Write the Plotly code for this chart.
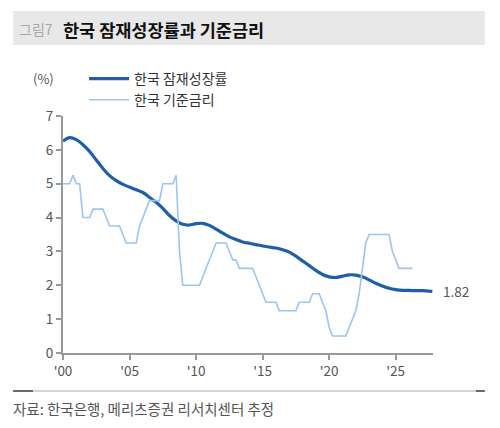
import plotly.graph_objects as go

# Potential growth rate (semiannual readings)
pg_x = [2000.0, 2000.5, 2001.0, 2001.5, 2002.0, 2002.5, 2003.0, 2003.5, 2004.0, 2004.5,
        2005.0, 2005.5, 2006.0, 2006.5, 2007.0, 2007.5, 2008.0, 2008.5, 2009.0, 2009.5,
        2010.0, 2010.5, 2011.0, 2011.5, 2012.0, 2012.5, 2013.0, 2013.5, 2014.0, 2014.5,
        2015.0, 2015.5, 2016.0, 2016.5, 2017.0, 2017.5, 2018.0, 2018.5, 2019.0, 2019.5,
        2020.0, 2020.5, 2021.0, 2021.5, 2022.0, 2022.5, 2023.0, 2023.5, 2024.0, 2024.5,
        2025.0, 2025.5, 2026.0, 2026.5, 2027.0, 2027.5, 2027.75]
pg_y = [6.26, 6.36, 6.30, 6.15, 5.95, 5.70, 5.45, 5.24, 5.09, 4.98,
        4.90, 4.82, 4.74, 4.60, 4.45, 4.27, 4.06, 3.90, 3.80, 3.78,
        3.82, 3.83, 3.77, 3.66, 3.54, 3.43, 3.35, 3.28, 3.24, 3.20,
        3.16, 3.13, 3.10, 3.05, 2.98, 2.86, 2.72, 2.58, 2.44, 2.32,
        2.25, 2.23, 2.27, 2.31, 2.30, 2.25, 2.16, 2.06, 1.98, 1.91,
        1.87, 1.85, 1.85, 1.84, 1.84, 1.83, 1.82]

# Base rate (quarterly readings)
br_x = [2000.0 + 0.25 * i for i in range(106)]
br_y = [5.0, 5.0, 5.0, 5.25, 5.0, 5.0, 4.0, 4.0,      # 2000-2001
        4.0, 4.25, 4.25, 4.25, 4.25, 4.0, 3.75, 3.75,  # 2002-2003
        3.75, 3.75, 3.5, 3.25, 3.25, 3.25, 3.25, 3.75,  # 2004-2005
        4.0, 4.25, 4.5, 4.5, 4.5, 4.5, 5.0, 5.0,        # 2006-2007
        5.0, 5.0, 5.25, 3.0, 2.0, 2.0, 2.0, 2.0,        # 2008-2009
        2.0, 2.0, 2.25, 2.5, 2.75, 3.0, 3.25, 3.25,     # 2010-2011
        3.25, 3.25, 3.0, 2.75, 2.75, 2.5, 2.5, 2.5,     # 2012-2013
        2.5, 2.5, 2.25, 2.0, 1.75, 1.5, 1.5, 1.5,       # 2014-2015
        1.5, 1.25, 1.25, 1.25, 1.25, 1.25, 1.25, 1.5,   # 2016-2017
        1.5, 1.5, 1.5, 1.75, 1.75, 1.75, 1.5, 1.25,     # 2018-2019
        0.75, 0.5, 0.5, 0.5, 0.5, 0.5, 0.75, 1.0,       # 2020-2021
        1.25, 1.75, 2.5, 3.25, 3.5, 3.5, 3.5, 3.5,      # 2022-2023
        3.5, 3.5, 3.5, 3.0, 2.75, 2.5, 2.5, 2.5,        # 2024-2025
        2.5, 2.5]                                        # 2026

tick_vals = [2000, 2005, 2010, 2015, 2020, 2025]
tick_text = ["'00", "'05", "'10", "'15", "'20", "'25"]

FONT = "Noto Sans CJK KR"
DARK = "#1f5fa8"
LIGHT = "#9cc6ee"

fig = go.Figure()
fig.add_trace(go.Scatter(x=pg_x, y=pg_y, mode="lines", name="한국 잠재성장률",
                         line=dict(color=DARK, width=3.2, shape="spline", smoothing=0.8)))
fig.add_trace(go.Scatter(x=br_x, y=br_y, mode="lines", name="한국 기준금리",
                         line=dict(color=LIGHT, width=1.6)))

fig.add_annotation(x=pg_x[-1], y=pg_y[-1], text=f"{pg_y[-1]:.2f}", showarrow=False,
                   xanchor="left", xshift=9, font=dict(family=FONT, size=13.5, color="#555"))

# title bar
fig.add_shape(type="rect", xref="paper", yref="paper", x0=-0.135, x1=1.14,
              y0=1 + (116 - 45) / 237, y1=1 + (116 - 11) / 237,
              fillcolor="#e8e8e8", line=dict(width=0), layer="below")
fig.add_annotation(xref="paper", yref="paper", x=(17 - 63) / 370, y=1 + (116 - 29) / 237,
                   xanchor="left", yanchor="middle", showarrow=False,
                   text="그림7", font=dict(family=FONT, size=14, color="#a8a8a8"))
fig.add_annotation(xref="paper", yref="paper", x=(61 - 63) / 370, y=1 + (116 - 29) / 237,
                   xanchor="left", yanchor="middle", showarrow=False,
                   text="<b>한국 잠재성장률과 기준금리</b>", font=dict(family=FONT, size=17.5, color="#111"))
fig.add_annotation(xref="paper", yref="paper", x=(31 - 63) / 370, y=1 + (116 - 78) / 237,
                   xanchor="left", yanchor="middle", showarrow=False,
                   text="(%)", font=dict(family=FONT, size=13, color="#555"))

# bottom rule and source
yb = (353 - 391) / 237
fig.add_shape(type="line", xref="paper", yref="paper", x0=-0.135, x1=1.14, y0=yb, y1=yb,
              line=dict(color="#aaaaaa", width=1))
fig.add_shape(type="line", xref="paper", yref="paper", x0=-0.135, x1=(33 - 63) / 370, y0=yb, y1=yb,
              line=dict(color="#444", width=1.5))
fig.add_shape(type="line", xref="paper", yref="paper", x0=(476 - 63) / 370, x1=1.14, y0=yb, y1=yb,
              line=dict(color="#444", width=1.5))
fig.add_annotation(xref="paper", yref="paper", x=(11 - 63) / 370, y=(353 - 408) / 237,
                   xanchor="left", yanchor="middle", showarrow=False,
                   text="자료: 한국은행, 메리츠증권 리서치센터 추정",
                   font=dict(family=FONT, size=14.5, color="#555"))

fig.update_layout(
    width=500, height=428,
    margin=dict(l=63, r=67, t=116, b=75),
    paper_bgcolor="white", plot_bgcolor="white",
    font=dict(family=FONT, size=13, color="#555"),
    showlegend=True,
    legend=dict(x=0.057, y=1 + (116 - 63) / 237, xanchor="left", yanchor="top",
                bgcolor="rgba(0,0,0,0)", font=dict(family=FONT, size=14, color="#333"),
                tracegroupgap=0, itemwidth=40),
    xaxis=dict(range=[2000, 2027.8], tickvals=tick_vals, ticktext=tick_text,
               showgrid=False, zeroline=False, showline=True, linecolor="#999", linewidth=2,
               ticks="outside", ticklen=5, tickcolor="#999", tickwidth=1.5,
               tickfont=dict(family=FONT, size=13.5, color="#555")),
    yaxis=dict(range=[0, 7], tickvals=[0, 1, 2, 3, 4, 5, 6, 7],
               showgrid=False, zeroline=False, showline=True, linecolor="#999", linewidth=2,
               ticks="outside", ticklen=5, tickcolor="#999", tickwidth=1.5,
               tickfont=dict(family=FONT, size=13.5, color="#555")),
)

fig.write_html("out.html")
